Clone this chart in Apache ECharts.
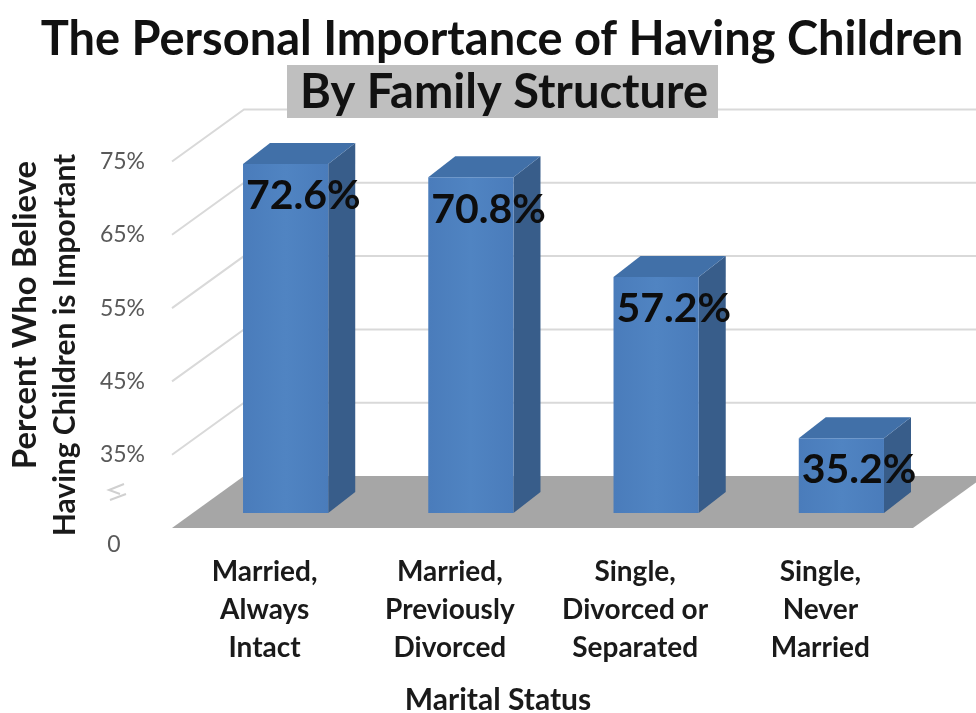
<!DOCTYPE html>
<html>
<head>
<meta charset="utf-8">
<title>The Personal Importance of Having Children</title>
<script src="https://cdn.jsdelivr.net/npm/echarts@6/dist/echarts.min.js"></script>
<style>
  html, body { margin: 0; padding: 0; background: #ffffff; }
  #chart { width: 976px; height: 713px; }
</style>
</head>
<body>
<div id="chart"></div>
<script>
// Marital status groups and share who say having children is important (%)
const categories = [
  'Married,\nAlways\nIntact',
  'Married,\nPreviously\nDivorced',
  'Single,\nDivorced or\nSeparated',
  'Single,\nNever\nMarried'
];
const values = [72.6, 70.8, 57.2, 35.2];

// Value axis: the floor sits at 25 (shown as a broken axis down to 0)
const axisFloor = 25;
const axisTop = 75;
const gridValues = [35, 45, 55, 65, 75];

const FONT = 'Lato, "Open Sans", sans-serif';

// Oblique projection used for the 3-D look
const WALL_DX = 72, WALL_DY = -52;     // floor front edge -> back wall
const BAR_DX = 21, BAR_DY = -15;       // floor front edge -> bar front face
const DEPTH_DX = 27, DEPTH_DY = -21;   // bar front face -> bar back face
const BAR_WIDTH_RATIO = 0.46;

const chart = echarts.init(document.getElementById('chart'), null, { renderer: 'canvas' });

const option = {
  backgroundColor: '#ffffff',
  animation: false,
  grid: { left: 172, right: 63, top: 161.5, bottom: 185, containLabel: false },
  xAxis: {
    type: 'category',
    data: categories,
    axisLine: { show: false },
    axisTick: { show: false },
    splitLine: { show: false },
    axisLabel: {
      margin: 25,
      fontFamily: FONT,
      fontWeight: 'bold',
      fontSize: 28,
      lineHeight: 38,
      color: '#1a1a1a',
      interval: 0,
      align: 'center'
    }
  },
  yAxis: {
    type: 'value',
    min: axisFloor,
    max: axisTop,
    interval: 5,
    axisLine: { show: false },
    axisTick: { show: false },
    splitLine: { show: false },
    axisLabel: {
      margin: 27,
      fontFamily: FONT,
      fontSize: 23,
      color: '#595959',
      formatter: function (v) {
        return gridValues.indexOf(v) >= 0 ? v + '%' : '';
      }
    }
  },
  graphic: [
    {
      type: 'text',
      x: 502, y: 40,
      style: {
        text: 'The Personal Importance of Having Children',
        font: 'bold 47px ' + FONT,
        fill: '#111111',
        align: 'center',
        verticalAlign: 'middle'
      },
      z: 10
    },
    {
      type: 'rect',
      shape: { x: 287, y: 65, width: 431, height: 53 },
      style: { fill: '#bfbfbf' },
      z: 9
    },
    {
      type: 'text',
      x: 504, y: 93,
      style: {
        text: 'By Family Structure',
        font: 'bold 47px ' + FONT,
        fill: '#111111',
        align: 'center',
        verticalAlign: 'middle'
      },
      z: 10
    },
    {
      type: 'text',
      x: 25, y: 315,
      rotation: Math.PI / 2,
      style: {
        text: 'Percent Who Believe',
        font: 'bold 33px ' + FONT,
        fill: '#1a1a1a',
        align: 'center',
        verticalAlign: 'middle'
      }
    },
    {
      type: 'text',
      x: 65, y: 345,
      rotation: Math.PI / 2,
      style: {
        text: 'Having Children is Important',
        font: 'bold 30px ' + FONT,
        fill: '#1a1a1a',
        align: 'center',
        verticalAlign: 'middle'
      }
    },
    {
      type: 'text',
      x: 114, y: 545,
      style: {
        text: '0',
        font: '23px ' + FONT,
        fill: '#595959',
        align: 'center',
        verticalAlign: 'middle'
      }
    },
    {
      // axis break mark
      type: 'polyline',
      shape: { points: [[124, 484], [109, 490], [120, 494]] },
      style: { stroke: '#d0d0d0', lineWidth: 2, fill: null }
    },
    {
      type: 'polyline',
      shape: { points: [[110, 500], [126, 494]] },
      style: { stroke: '#d0d0d0', lineWidth: 2, fill: null }
    },
    {
      type: 'text',
      x: 498, y: 700,
      style: {
        text: 'Marital Status',
        font: 'bold 30px ' + FONT,
        fill: '#1a1a1a',
        align: 'center',
        verticalAlign: 'middle'
      }
    }
  ],
  series: [
    {
      // back wall gridlines with their slanted side-wall segment
      type: 'custom',
      name: 'wall',
      silent: true,
      z: 1,
      data: gridValues.map(function (v) { return [0, v]; }),
      renderItem: function (params, api) {
        const cs = params.coordSys;
        const y = api.coord([0, api.value(1)])[1];
        return {
          type: 'polyline',
          shape: {
            points: [
              [cs.x, y],
              [cs.x + WALL_DX, y + WALL_DY],
              [cs.x + cs.width + WALL_DX, y + WALL_DY]
            ]
          },
          style: { stroke: '#d9d9d9', lineWidth: 2, fill: null }
        };
      }
    },
    {
      // gray floor
      type: 'custom',
      name: 'floor',
      silent: true,
      z: 2,
      data: [[0, axisFloor]],
      renderItem: function (params, api) {
        const cs = params.coordSys;
        const y = api.coord([0, api.value(1)])[1];
        return {
          type: 'polygon',
          shape: {
            points: [
              [cs.x, y],
              [cs.x + cs.width, y],
              [cs.x + cs.width + WALL_DX, y + WALL_DY],
              [cs.x + WALL_DX, y + WALL_DY]
            ]
          },
          style: { fill: '#a6a6a6' }
        };
      }
    },
    {
      // 3-D bars with value labels
      type: 'custom',
      name: 'Percent',
      z: 3,
      data: values.map(function (v, i) { return [i, v]; }),
      renderItem: function (params, api) {
        const idx = api.value(0);
        const val = api.value(1);
        const top = api.coord([idx, val]);
        const base = api.coord([idx, axisFloor]);
        const w = api.size([1, 0])[0] * BAR_WIDTH_RATIO;
        const x0 = top[0] + BAR_DX - w / 2;
        const x1 = x0 + w;
        const yT = top[1] + BAR_DY;
        const yB = base[1] + BAR_DY;
        return {
          type: 'group',
          children: [
            {
              type: 'polygon',
              shape: { points: [[x1, yT], [x1 + DEPTH_DX, yT + DEPTH_DY], [x1 + DEPTH_DX, yB + DEPTH_DY], [x1, yB]] },
              style: { fill: '#385d8a' }
            },
            {
              type: 'polygon',
              shape: { points: [[x0, yT], [x0 + DEPTH_DX, yT + DEPTH_DY], [x1 + DEPTH_DX, yT + DEPTH_DY], [x1, yT]] },
              style: { fill: '#4170a8' }
            },
            {
              type: 'rect',
              shape: { x: x0, y: yT, width: w, height: yB - yT },
              style: {
                fill: new echarts.graphic.LinearGradient(0, 0, 1, 0, [
                  { offset: 0, color: '#4a7cbb' },
                  { offset: 0.5, color: '#5084c2' },
                  { offset: 1, color: '#4a7cbb' }
                ])
              }
            },
            {
              type: 'text',
              x: x0 + 3,
              y: yT + 32,
              style: {
                text: val.toFixed(1) + '%',
                font: 'bold 41px ' + FONT,
                fill: '#0d0d0d',
                align: 'left',
                verticalAlign: 'middle'
              },
              z2: 10
            }
          ]
        };
      }
    }
  ]
};

chart.setOption(option);
</script>
</body>
</html>
